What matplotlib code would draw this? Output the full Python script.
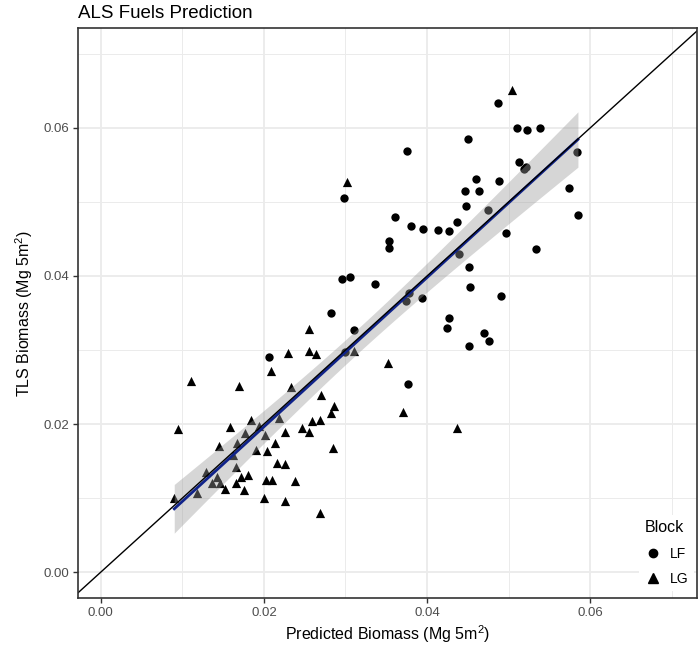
import numpy as np
import matplotlib
matplotlib.use("Agg")
import matplotlib.pyplot as plt
from matplotlib.lines import Line2D

plt.rcParams["font.family"] = ["Liberation Sans", "DejaVu Sans"]
plt.rcParams["mathtext.fontset"] = "custom"
plt.rcParams["mathtext.rm"] = "Liberation Sans"

title = "ALS Fuels Prediction"
xlabel = "Predicted Biomass (Mg 5m$^2$)"
ylabel = "TLS Biomass (Mg 5m$^2$)"
ticks = [0.00, 0.02, 0.04, 0.06]
tick_labels = ["0.00", "0.02", "0.04", "0.06"]
legend_title = "Block"
groups = ["LF", "LG"]

lf_x = [0.0487, 0.0510, 0.0523, 0.0539, 0.0450, 0.0375, 0.0584, 0.0513, 0.0519, 0.0521,
        0.0460, 0.0488, 0.0447, 0.0464, 0.0574, 0.0448, 0.0475, 0.0361, 0.0585, 0.0437,
        0.0380, 0.0395, 0.0414, 0.0427, 0.0353, 0.0353, 0.0497, 0.0533, 0.0439, 0.0452,
        0.0453, 0.0491, 0.0378, 0.0374, 0.0394, 0.0427, 0.0425, 0.0470, 0.0476, 0.0452,
        0.0377, 0.0296, 0.0306, 0.0336, 0.0282, 0.0310, 0.0206, 0.0299, 0.0298]
lf_y = [0.0634, 0.0600, 0.0597, 0.0600, 0.0585, 0.0569, 0.0568, 0.0554, 0.0545, 0.0547,
        0.0531, 0.0528, 0.0515, 0.0515, 0.0519, 0.0495, 0.0489, 0.0480, 0.0482, 0.0473,
        0.0468, 0.0463, 0.0462, 0.0461, 0.0447, 0.0438, 0.0458, 0.0436, 0.0430, 0.0412,
        0.0385, 0.0373, 0.0377, 0.0366, 0.0370, 0.0343, 0.0330, 0.0323, 0.0312, 0.0305,
        0.0254, 0.0396, 0.0399, 0.0389, 0.0350, 0.0327, 0.0291, 0.0297, 0.0505]

lg_x = [0.0504, 0.0302, 0.0352, 0.0371, 0.0437, 0.0255, 0.0229, 0.0255, 0.0264, 0.0310,
        0.0209, 0.0169, 0.0233, 0.0270, 0.0286, 0.0282, 0.0259, 0.0269, 0.0184, 0.0218,
        0.0247, 0.0255, 0.0226, 0.0177, 0.0110, 0.0194, 0.0095, 0.0158, 0.0201, 0.0167,
        0.0213, 0.0145, 0.0190, 0.0204, 0.0162, 0.0216, 0.0226, 0.0166, 0.0129, 0.0180,
        0.0172, 0.0202, 0.0210, 0.0238, 0.0142, 0.0136, 0.0146, 0.0166, 0.0152, 0.0175,
        0.0118, 0.0090, 0.0200, 0.0226, 0.0269, 0.0285]
lg_y = [0.0651, 0.0527, 0.0282, 0.0216, 0.0195, 0.0328, 0.0296, 0.0299, 0.0295, 0.0299,
        0.0272, 0.0251, 0.0250, 0.0239, 0.0224, 0.0215, 0.0204, 0.0205, 0.0205, 0.0208,
        0.0195, 0.0189, 0.0189, 0.0188, 0.0258, 0.0197, 0.0193, 0.0196, 0.0185, 0.0174,
        0.0175, 0.0170, 0.0165, 0.0164, 0.0158, 0.0147, 0.0146, 0.0142, 0.0135, 0.0131,
        0.0128, 0.0124, 0.0124, 0.0123, 0.0128, 0.0120, 0.0120, 0.0120, 0.0112, 0.0111,
        0.0107, 0.0100, 0.0100, 0.0096, 0.0080, 0.0168]

W, H = 698, 646
fig = plt.figure(figsize=(W / 100, H / 100), dpi=100)
ax = fig.add_axes([78 / W, 1 - 598 / H, (697 - 78) / W, (598 - 28) / H])

ax.set_xlim(-0.0028, 0.0731)
ax.set_ylim(-0.0035, 0.0735)

# grid
for v in [0.01, 0.03, 0.05, 0.07]:
    ax.axvline(v, color="#EBEBEB", lw=0.7, zorder=0)
    ax.axhline(v, color="#EBEBEB", lw=0.7, zorder=0)
for v in ticks:
    ax.axvline(v, color="#EBEBEB", lw=1.3, zorder=0)
    ax.axhline(v, color="#EBEBEB", lw=1.3, zorder=0)

ax.scatter(lf_x, lf_y, marker="o", s=36, color="black", linewidths=0, zorder=2)
ax.scatter(lg_x, lg_y, marker="^", s=44, color="black", linewidths=0, zorder=2)

# linear fit with 95% CI
x_all = np.array(lf_x + lg_x)
y_all = np.array(lf_y + lg_y)
n = len(x_all)
slope, intercept = np.polyfit(x_all, y_all, 1)
resid = y_all - (slope * x_all + intercept)
s_err = np.sqrt(np.sum(resid ** 2) / (n - 2))
xs = np.linspace(x_all.min(), x_all.max(), 100)
ys = slope * xs + intercept
se = s_err * np.sqrt(1 / n + (xs - x_all.mean()) ** 2 / np.sum((x_all - x_all.mean()) ** 2))
tval = 1.98
ax.fill_between(xs, ys - tval * se, ys + tval * se, color="#999999", alpha=0.4,
                linewidth=0, zorder=3)
ax.plot(xs, ys, color="#10238a", lw=2, zorder=4)

ax.axline((0, 0), slope=1, color="black", lw=1, zorder=5)

ax.set_xticks(ticks)
ax.set_xticklabels(tick_labels)
ax.set_yticks(ticks)
ax.set_yticklabels(tick_labels)
ax.tick_params(axis="both", length=3.5, width=1, color="#333333", labelcolor="#4D4D4D",
               labelsize=9.5, pad=3)
for sp in ax.spines.values():
    sp.set_color("#333333")
    sp.set_linewidth(1.2)
    sp.set_zorder(6)

ax.set_xlabel(xlabel, fontsize=11.5, color="black", labelpad=3)
ax.set_ylabel(ylabel, fontsize=11.5, color="black", labelpad=6)
fig.text(78 / W, 1 - 13 / H, title, fontsize=13.5, ha="left", va="center")

handles = [Line2D([], [], marker="o", ls="none", color="black", markersize=6),
           Line2D([], [], marker="^", ls="none", color="black", markersize=7)]
leg = fig.legend(handles, groups, title=legend_title, loc="upper left",
                 bbox_to_anchor=(632 / W, 1 - 508 / H), frameon=True, fontsize=10,
                 title_fontsize=11.5, handletextpad=0.6, labelspacing=0.8,
                 borderpad=0.4, handlelength=1.2)
leg.get_frame().set_facecolor("white")
leg.get_frame().set_edgecolor("none")
leg.get_frame().set_alpha(1)
leg._legend_box.align = "left"

fig.savefig("out.png", dpi=100)
